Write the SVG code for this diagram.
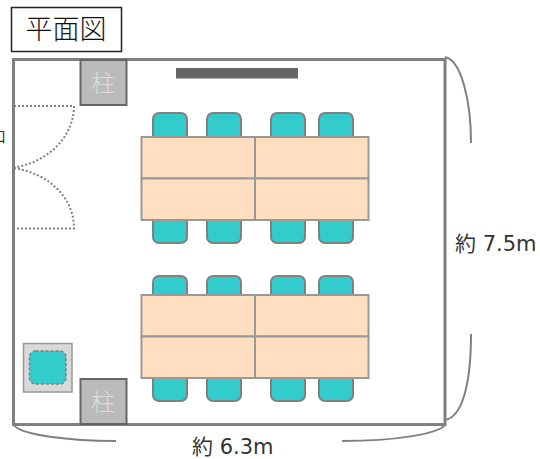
<svg xmlns="http://www.w3.org/2000/svg" width="540" height="459" viewBox="0 0 540 459">
<style>
.room{fill:#fff;stroke:#808080;stroke-width:3}
.tbl{fill:#ffdfc0;stroke:#999;stroke-width:2}
.chair{fill:#33cccc;stroke:#808080;stroke-width:2}
.pil{fill:#bbb;stroke:#666;stroke-width:2}
.door{fill:none;stroke:#808080;stroke-width:2;stroke-dasharray:2 2}
.arc{fill:none;stroke:#808080;stroke-width:2}
.lbl{font-family:"DejaVu Sans","Noto Sans CJK JP",sans-serif;font-size:21px;fill:#333}
.pt{font-family:"Noto Sans CJK JP",sans-serif;font-size:24px;fill:#ddd;text-anchor:middle;font-weight:300}
</style>
<g id="room"><rect class="room" x="13.5" y="59.5" width="431.5" height="365"/></g>
<g id="title"><rect x="11.5" y="7.5" width="110" height="44" fill="#fff" stroke="#222" stroke-width="1.5"/><text x="66" y="39" font-family="'Noto Sans CJK JP',sans-serif" font-size="27px" font-weight="300" fill="#111" text-anchor="middle">平面図</text></g>
<g id="pillar-top"><rect class="pil" x="80.5" y="60" width="46" height="45"/><text class="pt" x="103" y="92">柱</text></g>
<g id="pillar-bottom"><rect class="pil" x="80.5" y="379" width="46" height="45"/><text class="pt" x="103" y="411">柱</text></g>
<g id="screen"><rect x="176" y="68" width="122" height="10.500" fill="#666"/></g>
<g id="door"><path class="door" d="M14 106H74C74 135 50 162 14 167.500"/><path class="door" d="M14 168C50 174 74 198 74 228.500H14"/><text x="-9" y="142" font-family="'Noto Sans CJK JP',sans-serif" font-size="15px" fill="#333">口</text></g>
<g id="tank"><rect x="23.500" y="343.500" width="48.500" height="48.500" fill="#d9d9d9" stroke="#999" stroke-width="1.500"/><rect x="29.500" y="351" width="36.500" height="33" rx="6" fill="#33cccc" stroke="#808080" stroke-width="1.500" stroke-dasharray="3 2"/></g>
<g id="table-top">
<rect class="chair" x="153" y="113" width="34" height="32" rx="6"/><rect class="chair" x="207" y="113" width="34" height="32" rx="6"/><rect class="chair" x="271" y="113" width="34" height="32" rx="6"/><rect class="chair" x="319" y="113" width="34" height="32" rx="6"/>
<rect class="chair" x="153" y="211" width="34" height="32" rx="6"/><rect class="chair" x="207" y="211" width="34" height="32" rx="6"/><rect class="chair" x="271" y="211" width="34" height="32" rx="6"/><rect class="chair" x="319" y="211" width="34" height="32" rx="6"/>
<rect class="tbl" x="141.500" y="137" width="113.500" height="41.500"/><rect class="tbl" x="255" y="137" width="113.500" height="41.500"/><rect class="tbl" x="141.500" y="178.500" width="113.500" height="41.500"/><rect class="tbl" x="255" y="178.500" width="113.500" height="41.500"/>
</g>
<g id="table-bottom">
<rect class="chair" x="153" y="276" width="34" height="32" rx="6"/><rect class="chair" x="207" y="276" width="34" height="32" rx="6"/><rect class="chair" x="271" y="276" width="34" height="32" rx="6"/><rect class="chair" x="319" y="276" width="34" height="32" rx="6"/>
<rect class="chair" x="153" y="369" width="34" height="32" rx="6"/><rect class="chair" x="207" y="369" width="34" height="32" rx="6"/><rect class="chair" x="271" y="369" width="34" height="32" rx="6"/><rect class="chair" x="319" y="369" width="34" height="32" rx="6"/>
<rect class="tbl" x="141.500" y="295" width="113.500" height="41.500"/><rect class="tbl" x="255" y="295" width="113.500" height="41.500"/><rect class="tbl" x="141.500" y="336.500" width="113.500" height="41.500"/><rect class="tbl" x="255" y="336.500" width="113.500" height="41.500"/>
</g>
<g id="connectors">
<path class="arc" d="M445 57C461 60 471 100 471 143"/>
<path class="arc" d="M471 334C471 385 462 417 445 420"/>
<path class="arc" d="M14 425C20 435 70 441 116 441"/>
<path class="arc" d="M445 425C438 434 395 441 342 441"/>
</g>
<text class="lbl" x="455" y="251">約 7.5m</text>
<text class="lbl" x="192" y="454">約 6.3m</text>
</svg>
